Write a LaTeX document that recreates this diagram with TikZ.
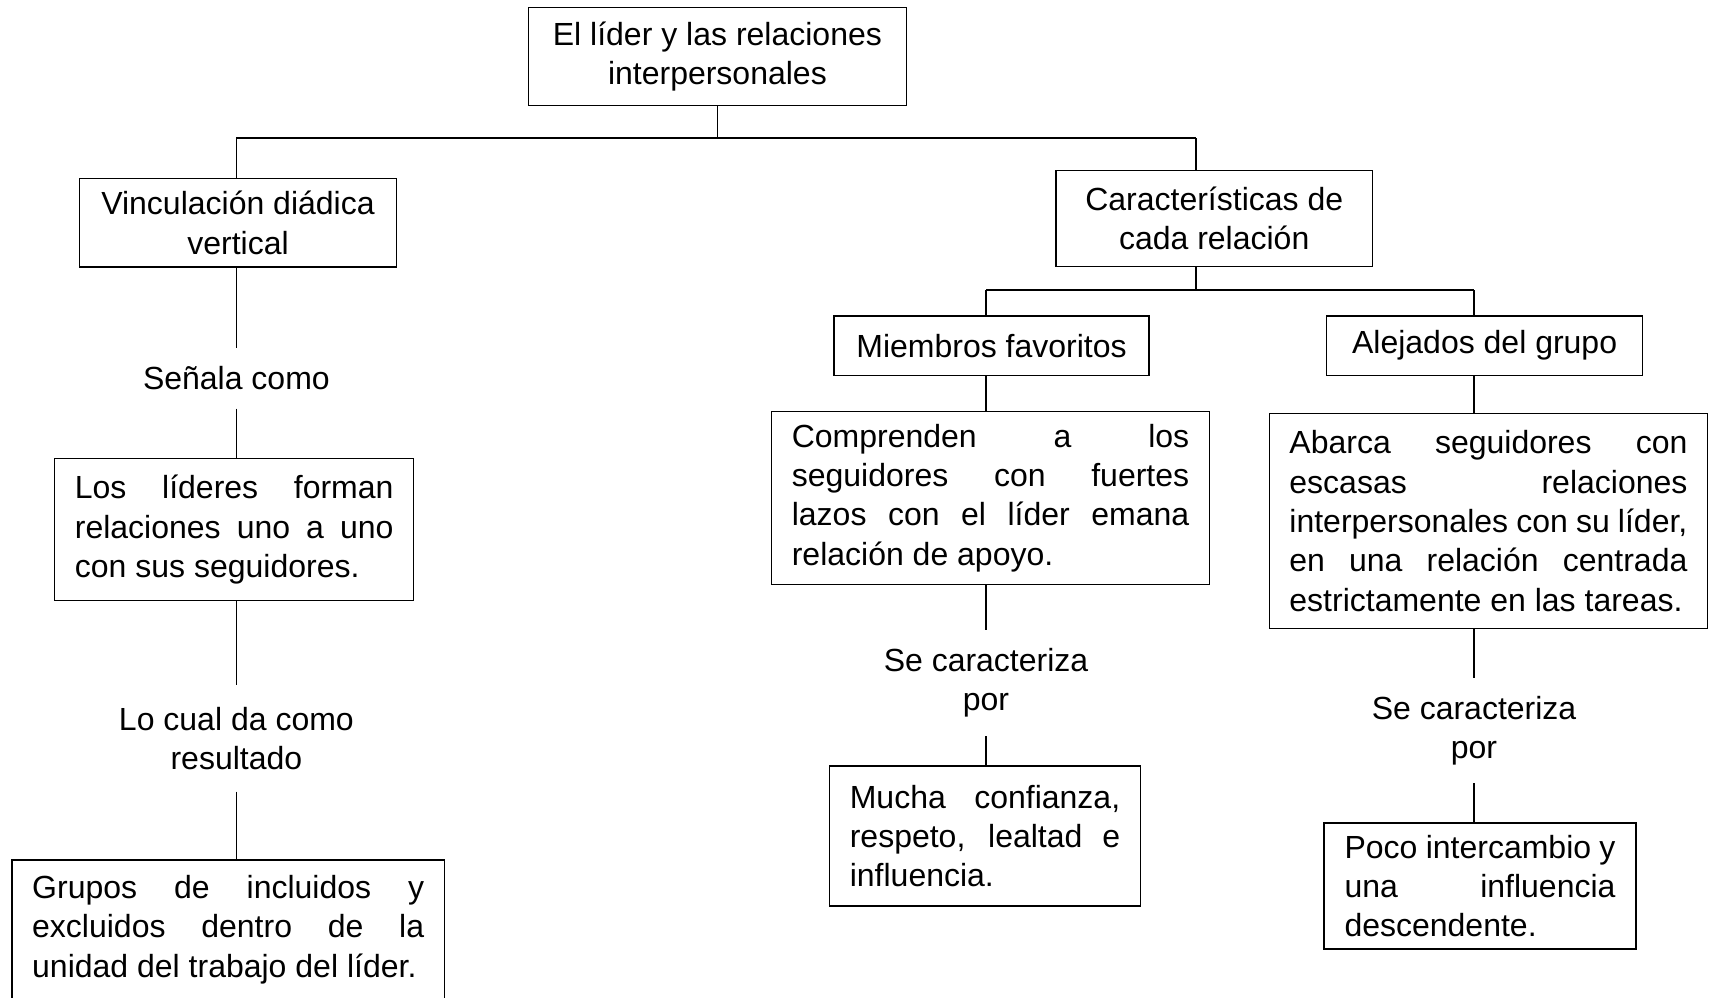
\documentclass[tikz,border=0pt]{standalone}
\usepackage{fontspec}
\setmainfont{Liberation Sans}
\usepackage{tikz}
\tolerance=10000
\hyphenpenalty=10000

\begin{document}
\begin{tikzpicture}[x=0.5pt, y=-0.5pt, line width=0.6pt,
    box/.style={draw, inner sep=0pt, align=center, font=\fontsize{16}{19.7}\selectfont},
    para/.style={box, align=justify},
    tag/.style={inner sep=0pt, align=center, font=\fontsize{16}{19.7}\selectfont}]
        \useasboundingbox[fill=white] (0, 0) rectangle (1716, 997);
        % Boxes
        \node [box, minimum width=188.8pt, minimum height=48.7pt] (top) at (717.4, 56.4) {El líder y las relaciones\\interpersonales};
        \node [box, minimum width=158.2pt, minimum height=44.3pt] (vinc) at (238, 222.7) {Vinculación diádica\\vertical};
        \node [box, minimum width=158.2pt, minimum height=47.7pt] (carac) at (1214.2, 218.4) {Características de\\cada relación};
        \node [box, minimum width=157.5pt, minimum height=29.7pt] (miem) at (991.5, 345.7) {Miembros favoritos};
        \node [box, minimum width=158.2pt, minimum height=29.7pt] (alej) at (1484.6, 345.7) {Alejados del grupo};
        \node [para, text width=198.7pt, minimum width=218.9pt, minimum height=86.5pt] (compr) at (990.5, 498) {Comprenden a los\linebreak seguidores con fuertes\linebreak lazos con el líder emana\linebreak relación de apoyo.};
        \node [para, text width=199pt, minimum width=218.9pt, minimum height=107.3pt] (abarca) at (1488.4, 521) {Abarca seguidores con\linebreak escasas relaciones\linebreak interpersonales con su líder,\linebreak en una relación centrada\linebreak estrictamente en las tareas.};
        \node [para, text width=135.2pt, minimum width=155.4pt, minimum height=70pt] (mucha) at (985, 836) {Mucha confianza,\linebreak respeto, lealtad e\linebreak influencia.};
        \node [para, text width=135.5pt, minimum width=156pt, minimum height=63pt] (poco) at (1480, 886) {Poco intercambio y\linebreak una influencia\linebreak descendente.};
        \node [para, text width=159.3pt, minimum width=179.5pt, minimum height=71.2pt] (lideres) at (234.2, 529.6) {Los líderes forman\linebreak relaciones uno a uno\linebreak con sus seguidores.};
        \node [para, text width=196pt, minimum width=216.2pt, minimum height=69.5pt] (grupos) at (228.2, 929.5) {Grupos de incluidos y\linebreak excluidos dentro de la\linebreak unidad del trabajo del líder.};
        % Texts between the boxes
        \node [tag, minimum height=29.5pt] (senala) at (236.4, 378.5) {Señala como};
        \node [tag, minimum height=52.5pt] (locual) at (236.4, 738.5) {Lo cual da como\\resultado};
        \node [tag, minimum height=52.5pt] (secl) at (986, 682.9) {Se caracteriza\\por};
        \node [tag, minimum height=52pt] (secr) at (1474, 730.5) {Se caracteriza\\por};
        % Forks
        \coordinate (tl) at (236.4, 138);
        \coordinate (tr) at (1196, 138);
        \coordinate (fl) at (986, 290);
        \coordinate (fr) at (1474, 290);
        % Lines
        \draw (top.south) -- (top.south |- tl);
        \draw (tl) -- (tr);
        \draw (tl) -- (tl |- vinc.north);
        \draw (tr) -- (tr |- carac.north);
        \draw (tr |- carac.south) -- (tr |- fl);
        \draw (fl) -- (fr);
        \draw (fl) -- (fl |- miem.north);
        \draw (fr) -- (fr |- alej.north);
        % Left column
        \draw (tl |- vinc.south) -- (senala.north);
        \draw (senala.south) -- (senala.south |- lideres.north);
        \draw (locual |- lideres.south) -- (locual.north);
        \draw (locual.south) -- (locual.south |- grupos.north);
        % Middle column
        \draw (fl |- miem.south) -- (fl |- compr.north);
        \draw (fl |- compr.south) -- (secl.north);
        \draw (secl.south) -- (secl.south |- mucha.north);
        % Right column
        \draw (fr |- alej.south) -- (fr |- abarca.north);
        \draw (fr |- abarca.south) -- (secr.north);
        \draw (secr.south) -- (secr.south |- poco.north);
    \end{tikzpicture}
\end{document}
